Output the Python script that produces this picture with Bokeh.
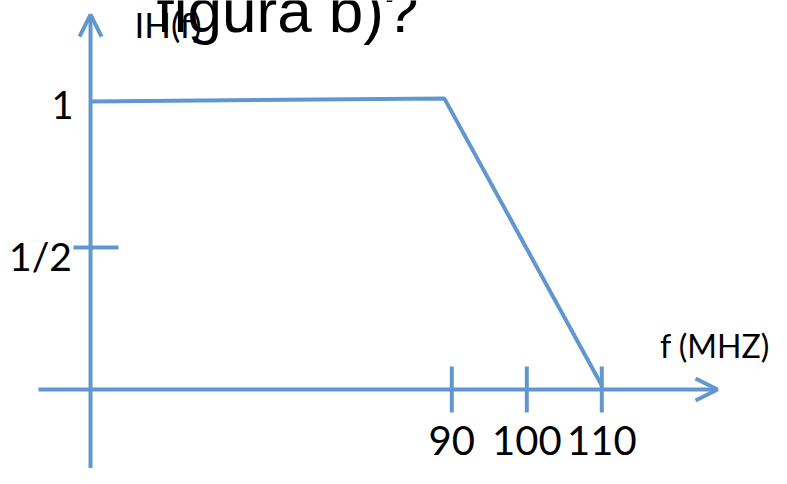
from bokeh.plotting import figure
from bokeh.models import Range1d, Arrow, OpenHead
from bokeh.core.properties import value
from bokeh.embed import file_html
from bokeh.resources import INLINE

# ---- data ----
freq_ticks = [90, 100, 110]
freq_tick_labels = ["90", "100", "110"]
mag_ticks = [0.5]
mag_tick_labels = ["1/2"]
resp_f = [41.83, 89.0, 110.0]      # MHz
resp_h = [1.014, 1.025, 0.014]     # |H(f)|
axis_f = 41.83                     # where the |H| axis stands
title_text = "figura b)?"
y_label = "IH(f)"
x_label = "f (MHZ)"
one_label = "1"

C = "#6197CE"
LW = 4

p = figure(width=771, height=468, x_range=Range1d(29.827, 132.627),
           y_range=Range1d(-0.2782, 1.3697), min_border=0,
           toolbar_location=None, output_backend="svg")
p.axis.visible = False
p.grid.visible = False
p.outline_line_color = None
p.background_fill_color = "white"

# axes with arrowheads
p.add_layout(Arrow(end=OpenHead(size=22, line_width=LW, line_color=C),
                   x_start=34.89, y_start=0.0, x_end=125.43, y_end=0.0,
                   line_width=LW, line_color=C))
p.add_layout(Arrow(end=OpenHead(size=22, line_width=LW, line_color=C),
                   x_start=axis_f, y_start=-0.33, x_end=axis_f, y_end=1.32,
                   line_width=LW, line_color=C))

# x ticks
p.segment(x0=freq_ticks, y0=[-0.081] * 3, x1=freq_ticks, y1=[0.081] * 3,
          line_color=C, line_width=LW)
# y tick
p.segment(x0=[axis_f - 2.27], y0=mag_ticks, x1=[axis_f + 3.73], y1=mag_ticks,
          line_color=C, line_width=LW)

# response
p.line(resp_f, resp_h, line_color=C, line_width=LW)

# texts
p.text(x=freq_ticks, y=[-0.1803] * 3, text=freq_tick_labels,
       text_font=value("Lato"), text_font_size="40px",
       text_align="center", text_baseline="alphabetic", text_color="black")
p.text(x=[35.16], y=[0.4697], text=mag_tick_labels, text_font=value("Lato"),
       text_font_size="39px", text_align="center", text_baseline="alphabetic",
       text_color="black")
p.text(x=[38.09], y=[1.0035], text=[one_label], text_font=value("Lato"),
       text_font_size="38px", text_align="center", text_baseline="alphabetic",
       text_color="black")
p.text(x=[132.4], y=[0.1542], text=[x_label], text_font=value("Lato"),
       text_font_size="32px", text_align="right", text_baseline="alphabetic",
       text_color="black")
p.text(x=[47.69], y=[1.2852], text=[y_label], text_font=value("Lato"),
       text_font_size="35px", text_align="left", text_baseline="alphabetic",
       text_color="black")
p.text(x=[50.63], y=[1.3345], text=[title_text],
       text_font=value("Liberation Sans"), text_font_size="62px",
       text_align="left", text_baseline="alphabetic", text_color="black")

open("out.html", "w").write(file_html(p, INLINE))
